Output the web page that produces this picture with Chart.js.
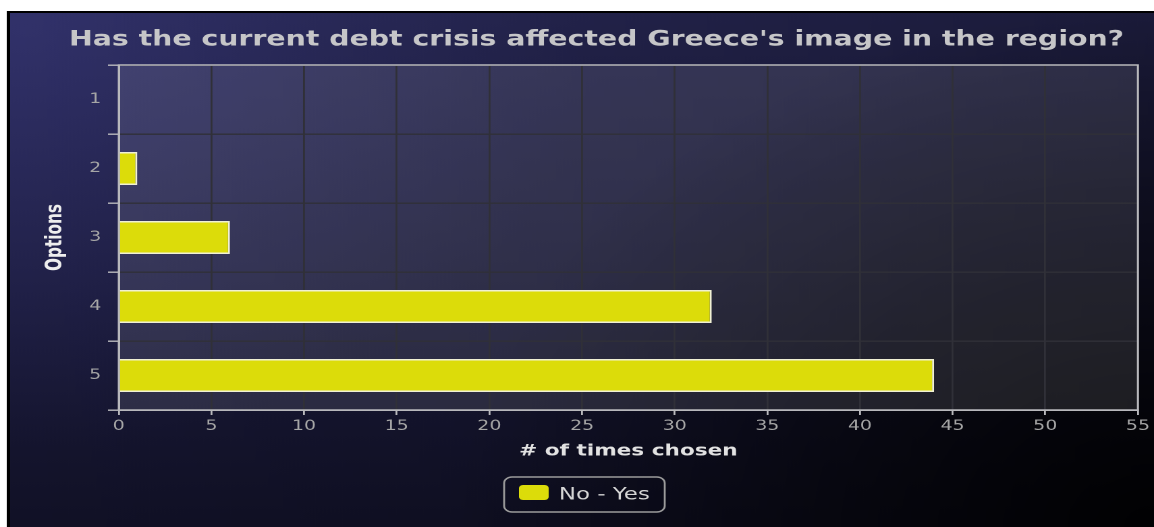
<!DOCTYPE html>
<html>
<head>
<meta charset="utf-8">
<script src="https://cdn.jsdelivr.net/npm/chart.js@4.4.0/dist/chart.umd.min.js"></script>
<style>
  html, body { margin: 0; padding: 0; background: #fff; overflow: hidden; }
  /* the chart is laid out on a narrower canvas and shown stretched to full width */
  #myChart { display: block; width: 1154px !important; height: 527px !important; }
</style>
</head>
<body>
<canvas id="myChart" width="855" height="527" style="width:1154px;height:527px"></canvas>
<script>
const titleText = "Has the current debt crisis affected Greece's image in the region?";
const options = ['1', '2', '3', '4', '5'];
const seriesLabel = 'No - Yes';
const timesChosen = [0, 1, 6, 32, 44];
const xMax = 55;

Chart.defaults.font.family = 'DejaVu Sans';

// dark panel, lighter plot box, frame, title and legend
const panelDecor = {
  id: 'panelDecor',
  beforeDraw(chart) {
    const { ctx, width, height, chartArea: a } = chart;
    const x0 = 7.5, y0 = 13;
    ctx.save();
    ctx.fillStyle = '#fff';
    ctx.fillRect(0, 0, width, height);
    ctx.fillStyle = '#000';
    ctx.fillRect(5, 11, width - 5, height - 11);

    const v = ctx.createLinearGradient(0, y0, 0, height);
    v.addColorStop(0, '#292958');
    v.addColorStop(0.6, '#1a1a3a');
    v.addColorStop(1, '#111126');
    ctx.fillStyle = v;
    ctx.fillRect(x0, y0, width - x0, height - y0);

    const hl = ctx.createRadialGradient(20, 30, 0, 20, 30, 420);
    hl.addColorStop(0, 'rgba(70,70,150,0.3)');
    hl.addColorStop(1, 'rgba(70,70,150,0)');
    ctx.fillStyle = hl;
    ctx.fillRect(x0, y0, width - x0, height - y0);

    const h = ctx.createLinearGradient(x0, 0, width, 0);
    h.addColorStop(0, 'rgba(0,0,0,0)');
    h.addColorStop(1, 'rgba(0,0,0,0.35)');
    ctx.fillStyle = h;
    ctx.fillRect(x0, y0, width - x0, height - y0);

    const dark = ctx.createRadialGradient(width, height, 0, width, height, 520);
    dark.addColorStop(0, 'rgba(0,0,0,0.9)');
    dark.addColorStop(0.5, 'rgba(0,0,0,0.45)');
    dark.addColorStop(1, 'rgba(0,0,0,0)');
    ctx.fillStyle = dark;
    ctx.fillRect(x0, y0, width - x0, height - y0);

    ctx.fillStyle = 'rgba(255,255,255,0.10)';
    ctx.fillRect(a.left, a.top, a.right - a.left, a.bottom - a.top);

    ctx.fillStyle = '#c6c6c8';
    ctx.font = 'bold 21px "DejaVu Sans"';
    ctx.textAlign = 'center';
    ctx.textBaseline = 'middle';
    ctx.fillText(titleText, 442, 40);
    ctx.restore();
  },
  afterDraw(chart) {
    const { ctx, chartArea: a } = chart;
    ctx.save();
    ctx.strokeStyle = '#b8b8bc';
    ctx.lineWidth = 1.5;
    ctx.strokeRect(a.left, a.top, a.right - a.left, a.bottom - a.top);

    const ds = chart.data.datasets[0];
    ctx.font = '17px "DejaVu Sans"';
    const tw = ctx.measureText(ds.label).width;
    const boxW = 22, gap = 7.5, padL = 11, padR = 11;
    const w = padL + boxW + gap + tw + padR;
    const h = 35;
    const x = 433 - w / 2, y = 477;
    ctx.strokeStyle = '#9c9c9c';
    ctx.lineWidth = 1.4;
    ctx.beginPath();
    ctx.roundRect(x, y, w, h, 6);
    ctx.stroke();
    ctx.fillStyle = ds.backgroundColor;
    ctx.beginPath();
    ctx.roundRect(x + padL, y + 8, boxW, 15, 3);
    ctx.fill();
    ctx.fillStyle = '#d6d6d6';
    ctx.textBaseline = 'middle';
    ctx.fillText(ds.label, x + padL + boxW + gap, y + h / 2 + 0.5);
    ctx.restore();
  }
};

const ctx = document.getElementById('myChart').getContext('2d');
new Chart(ctx, {
  type: 'bar',
  data: {
    labels: options,
    datasets: [{
      label: seriesLabel,
      data: timesChosen,
      backgroundColor: '#dcdc0a',
      borderColor: '#f0f0d4',
      borderWidth: 1.5,
      barPercentage: 0.48,
      categoryPercentage: 1
    }]
  },
  options: {
    indexAxis: 'y',
    responsive: false,
    animation: false,
    devicePixelRatio: 2,
    layout: { padding: { top: 65, left: 6, right: 11, bottom: 62 } },
    plugins: {
      legend: { display: false },
      tooltip: { enabled: false },
      title: { display: false }
    },
    scales: {
      x: {
        min: 0,
        max: xMax,
        ticks: { stepSize: 5, color: '#a6a6a6', font: { size: 14 }, padding: 3, maxRotation: 0 },
        grid: { color: '#303038', tickColor: '#b8b8bc', tickLength: 5, lineWidth: 1.4 },
        border: { color: '#b8b8bc', width: 1.5 },
        title: {
          display: true,
          text: '# of times chosen',
          color: '#e2e2e2',
          font: { size: 16, weight: 'bold' },
          padding: { top: 4, bottom: 4 }
        },
        afterFit(scale) { scale.height = 55; }
      },
      y: {
        ticks: { color: '#a6a6a6', font: { size: 14 }, padding: 5 },
        grid: { color: '#303038', tickColor: '#b8b8bc', tickLength: 8, lineWidth: 1.4, offset: true },
        border: { color: '#b8b8bc', width: 1.5 },
        title: {
          display: true,
          text: 'Options',
          color: '#eeeeee',
          font: { family: 'DejaVu Sans Condensed', size: 17, weight: 'bold' },
          padding: { top: 25, bottom: 0 }
        },
        afterFit(scale) { scale.width = 82; }
      }
    }
  },
  plugins: [panelDecor]
});
</script>
</body>
</html>
